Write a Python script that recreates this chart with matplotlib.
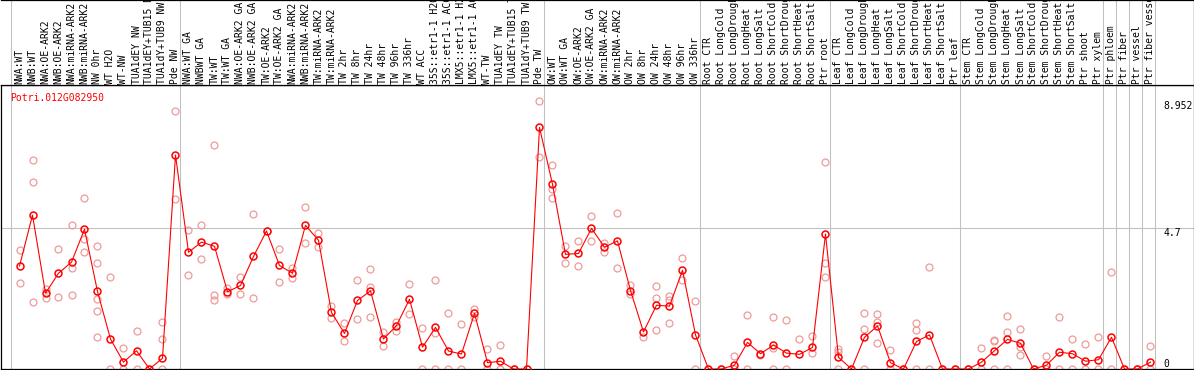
import numpy as np
import matplotlib
matplotlib.use("Agg")
import matplotlib.pyplot as plt

# Expression profile for one gene across sample groups
gene = "Potri.012G082950"

samples = [
    # group 1
    "NWA:WT", "NWB:WT", "NWA:OE-ARK2", "NWB:OE-ARK2", "NWA:miRNA-ARK2", "NWB:miRNA-ARK2",
    "NW 0hr", "WT H2O", "WT-NW", "TUA1dEY NW", "TUA1dEY+TUB15 NW", "TUA1dY+TUB9 NW", "Pde NW",
    # group 2
    "NWA:WT GA", "NWBWT GA", "TW:WT", "TW:WT GA", "NWA:OE-ARK2 GA", "NWB:OE-ARK2 GA",
    "TW:OE-ARK2", "TW:OE-ARK2 GA", "NWA:miRNA-ARK2", "NWB:miRNA-ARK2", "TW:miRNA-ARK2",
    "TW:miRNA-ARK2", "TW 2hr", "TW 8hr", "TW 24hr", "TW 48hr", "TW 96hr", "TW 336hr", "WT ACC",
    "35S::etr1-1 H2O", "35S::etr1-1 ACC", "LMX5::etr1-1 H2O", "LMX5::etr1-1 ACC", "WT-TW",
    "TUA1dEY TW", "TUA1dEY+TUB15 TW", "TUA1dY+TUB9 TW", "Pde TW",
    # group 3
    "OW:WT", "OW:WT GA", "OW:OE-ARK2", "OW:OE-ARK2 GA", "OW:miRNA-ARK2", "OW:miRNA-ARK2",
    "OW 2hr", "OW 8hr", "OW 24hr", "OW 48hr", "OW 96hr", "OW 336hr",
    # root
    "Root CTR", "Root LongCold", "Root LongDrought", "Root LongHeat", "Root LongSalt",
    "Root ShortCold", "Root ShortDrought", "Root ShortHeat", "Root ShortSalt", "Ptr root",
    # leaf
    "Leaf CTR", "Leaf LongCold", "Leaf LongDrought", "Leaf LongHeat", "Leaf LongSalt",
    "Leaf ShortCold", "Leaf ShortDrought", "Leaf ShortHeat", "Leaf ShortSalt", "Ptr leaf",
    # stem
    "Stem CTR", "Stem LongCold", "Stem LongDrought", "Stem LongHeat", "Stem LongSalt",
    "Stem ShortCold", "Stem ShortDrought", "Stem ShortHeat", "Stem ShortSalt", "Ptr shoot",
    "Ptr xylem",
    # single tissues
    "Ptr phloem", "Ptr fiber", "Ptr vessel", "Ptr fiber vessel",
]

group_sizes = [13, 28, 12, 10, 10, 11, 1, 1, 1, 1]

means = [
    3.44, 5.14, 2.53, 3.20, 3.57, 4.67, 2.59, 1.00, 0.23, 0.61, 0.00, 0.36, 7.15,
    3.90, 4.24, 4.10, 2.58, 2.79, 3.76, 4.61, 3.46, 3.20, 4.80, 4.30, 1.89, 1.19,
    2.29, 2.61, 1.00, 1.45, 2.33, 0.73, 1.39, 0.60, 0.50, 1.86, 0.21, 0.26, 0.00,
    0.00, 8.07,
    6.17, 3.83, 3.86, 4.70, 4.07, 4.28, 2.62, 1.24, 2.13, 2.10, 3.30, 1.14,
    0.00, 0.00, 0.13, 0.89, 0.51, 0.80, 0.53, 0.49, 0.72, 4.51,
    0.39, 0.00, 1.06, 1.44, 0.21, 0.00, 0.92, 1.14, 0.00, 0.00,
    0.00, 0.23, 0.61, 0.99, 0.86, 0.00, 0.13, 0.56, 0.51, 0.26, 0.31,
    1.06, 0.00, 0.00, 0.23,
]

replicates = [
    [3.97, 2.86], [6.98, 6.24, 2.23], [2.67, 2.36], [4.00, 2.39], [4.80, 3.36, 2.47],
    [5.73, 4.36, 3.90], [4.10, 3.53, 2.33, 1.93, 1.06], [3.06, 0], [0.69, 0], [1.26, 0],
    [0], [1.56, 0.99, 0], [8.61, 5.67],
    [4.63, 3.13], [4.80, 3.66], [7.50, 2.47, 2.30], [2.71, 2.50], [3.06, 2.49],
    [5.17, 2.37], [4.61], [4.00, 2.90], [3.37, 3.03], [5.40, 4.20], [4.54, 4.09],
    [2.10, 1.69], [1.53, 0.94], [2.96, 1.66], [3.34, 2.74, 1.73], [1.23, 0.78],
    [1.58, 1.27], [2.83, 1.83], [1.36, 0], [2.97, 1.20, 0], [1.86, 0], [1.49, 0],
    [2.00, 1.75], [0.66, 0], [0.80, 0], [0], [0], [8.952, 7.07],
    [6.80, 6.00, 5.70], [4.10, 3.53], [4.28, 3.45], [5.11, 4.28], [4.22, 3.90],
    [5.20, 3.36], [2.81, 2.49], [1.08], [2.77, 2.36, 1.29], [2.45, 2.30, 1.53],
    [3.70, 2.97], [2.26, 0],
    [0], [0], [0.43, 0], [1.79, 0], [0.47], [1.73, 0.69, 0], [1.63, 0], [0.99],
    [1.10, 0.55], [6.90, 3.53, 3.08],
    [0.66, 0.58, 0], [0], [1.86, 1.34, 0], [1.84, 1.56, 0.86], [0.62, 0], [0],
    [1.55, 1.29, 0], [3.42, 0], [0], [0],
    [0], [0.70, 0], [0.98, 0.92, 0], [1.77, 1.24, 0], [1.33, 0.75, 0.47], [0],
    [0.44, 0], [1.74, 0], [1.00, 0], [0.83, 0], [1.07, 0],
    [3.24, 0], [0], [0], [0.77, 0],
]

y_ticks = [0, 4.7, 8.952]
y_tick_labels = ["0", "4.7", "8.952"]

W, H = 1194, 370
fig = plt.figure(figsize=(W / 100, H / 100), dpi=100)
plt.rcParams["font.family"] = "DejaVu Sans Mono"

x = np.arange(len(samples))
xlim = ((0.5 - 19.5) / 13, (1193.5 - 19.5) / 13)
ymax = max(y_ticks) * 1.06

head_px = 85
ax = fig.add_axes([0.5 / W, 1 / H, 1193 / W, (H - head_px - 1) / H])
axh = fig.add_axes([0.5 / W, (H - head_px) / H, 1193 / W, head_px / H])

grid_c = "#c0c0c0"
bounds = np.concatenate([[0], np.cumsum(group_sizes)]) - 1 + 0.37
for b in bounds:
    ax.axvline(b, color=grid_c, lw=0.75, zorder=0)
    axh.axvline(b, color=grid_c, lw=0.75, zorder=0)
ax.axhline(4.7, color=grid_c, lw=0.75, zorder=0)

# replicate points
rx = [i for i, r in enumerate(replicates) for _ in r]
ry = [v for r in replicates for v in r]
ax.plot(rx, ry, "o", ms=5, mfc="none", mec="#f09a9a", mew=0.9, zorder=2, clip_on=True)

# mean profile
ax.plot(x, means, "-", color="red", lw=0.8, zorder=3)
ax.plot(x, means, "o", ms=5, mfc="none", mec="red", mew=1.1, zorder=4)

ax.set_xlim(*xlim)
ax.set_ylim(0, ymax)
ax.set_xticks([])
ax.set_yticks([])
for s in ax.spines.values():
    s.set_linewidth(0.9)
    s.set_color("black")

for v, lab in zip(y_ticks, y_tick_labels):
    ax.text(1163.5 / 13 - 19.5 / 13, v, lab, fontsize=7, ha="left",
            va="bottom" if v == 0 else "top", color="black")

ax.text(0.008, 0.955, gene, transform=ax.transAxes, color="red", fontsize=7,
        ha="left", va="center")

# header with rotated sample names
axh.set_xlim(*xlim)
axh.set_ylim(0, head_px)
axh.set_xticks([])
axh.set_yticks([])
axh.spines["left"].set_visible(False)
for s in ["top", "right", "bottom"]:
    axh.spines[s].set_linewidth(0.9)
for i, lab in enumerate(samples):
    axh.text(i, 1.5, lab, rotation=90, fontsize=7, ha="center", va="bottom",
             clip_on=True)

fig.savefig("out.png", dpi=100)
